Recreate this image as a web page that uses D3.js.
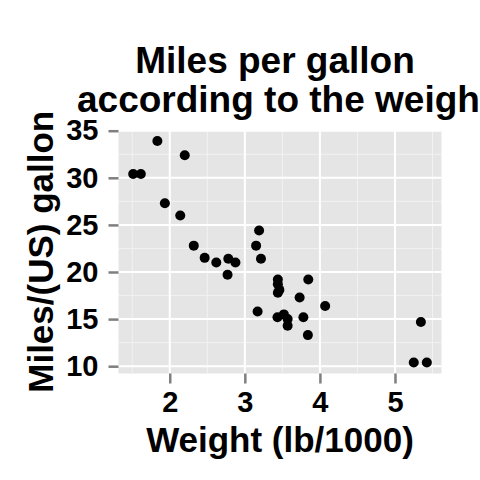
<!DOCTYPE html>
<html>
<head>
<meta charset="utf-8">
<script src="https://cdn.jsdelivr.net/npm/d3@7"></script>
<style>
  html, body { margin: 0; padding: 0; background: #fff; }
  svg { display: block; font-family: "Liberation Sans", Arial, sans-serif; font-weight: bold; }
</style>
</head>
<body>
<div id="scatter_plot"></div>
<script>
// weight (lb/1000) and mpg
var wt = [2.62, 2.875, 2.32, 3.215, 3.44, 3.46, 3.57, 3.19, 3.15, 3.44, 3.44, 4.07, 3.73, 3.78, 5.25, 5.424,
          5.345, 2.2, 1.615, 1.835, 2.465, 3.52, 3.435, 3.84, 3.845, 1.935, 2.14, 1.513, 3.17, 2.77, 3.57, 2.78]
var mpg = [21.0, 21.0, 22.8, 21.4, 18.7, 18.1, 14.3, 24.4, 22.8, 19.2, 17.8, 16.4, 17.3, 15.2, 10.4, 10.4,
           14.7, 32.4, 30.4, 33.9, 21.5, 15.5, 15.2, 13.3, 19.2, 27.3, 26.0, 30.4, 15.8, 19.7, 15.0, 21.4]
var xTicks = [2, 3, 4, 5]
var xMinor = [1.5, 2.5, 3.5, 4.5, 5.5]
var yTicks = [10, 15, 20, 25, 30, 35]
var yMinor = [12.5, 17.5, 22.5, 27.5, 32.5]
var titleLines = ["Miles per gallon", "according to the weight"]

var width = 480, height = 480
var margin = {top: 130, right: 38.5, bottom: 106.5, left: 118.5}

// ggplot-style 5% expansion
var xr = d3.max(wt) - d3.min(wt), yr = d3.max(mpg) - d3.min(mpg)
var x = d3.scaleLinear().domain([d3.min(wt) - xr*0.05, d3.max(wt) + xr*0.05]).range([margin.left, width - margin.right])
var y = d3.scaleLinear().domain([d3.min(mpg) - yr*0.05, d3.max(mpg) + yr*0.05]).range([height - margin.bottom, margin.top])

const svg = d3.select("#scatter_plot").append("svg")
	.attr("width", width).attr("height", height)
	.attr("viewBox", [0, 0, width, height])

//panel
svg.append("rect")
	.attr("x", margin.left).attr("y", margin.top)
	.attr("width", width - margin.left - margin.right)
	.attr("height", height - margin.top - margin.bottom)
	.attr("fill", "#e5e5e5")

//grid
var grid = svg.append("g").attr("stroke", "#fff")
grid.append("g").attr("stroke", "#f2f2f2").attr("stroke-width", 1)
	.call(g => g.selectAll(".vx").data(xMinor.filter(d => x(d) < width - margin.right)).join("line")
		.attr("x1", d => x(d)).attr("x2", d => x(d)).attr("y1", margin.top).attr("y2", height - margin.bottom))
	.call(g => g.selectAll(".hy").data(yMinor).join("line")
		.attr("y1", d => y(d)).attr("y2", d => y(d)).attr("x1", margin.left).attr("x2", width - margin.right))
grid.append("g").attr("stroke-width", 2)
	.call(g => g.selectAll(".vx").data(xTicks).join("line")
		.attr("x1", d => x(d)).attr("x2", d => x(d)).attr("y1", margin.top).attr("y2", height - margin.bottom))
	.call(g => g.selectAll(".hy").data(yTicks).join("line")
		.attr("y1", d => y(d)).attr("y2", d => y(d)).attr("x1", margin.left).attr("x2", width - margin.right))

//axes
var xAxis = g => g.attr("transform", "translate(0," + (height - margin.bottom) + ")")
	.call(d3.axisBottom(x).tickValues(xTicks).tickSize(10).tickPadding(8).tickFormat(d3.format("d")))
	.call(g => g.select(".domain").remove())
var yAxis = g => g.attr("transform", "translate(" + margin.left + ",0)")
	.call(d3.axisLeft(y).tickValues(yTicks).tickSize(10).tickPadding(10).tickFormat(d3.format("d")))
	.call(g => g.select(".domain").remove())

svg.append("g").call(xAxis)
svg.append("g").call(yAxis)
svg.selectAll(".tick line").attr("stroke", "#7f7f7f").attr("stroke-width", 2.5)
svg.selectAll(".tick text").attr("fill", "#000").attr("font-size", 29).attr("font-family", "Liberation Sans, Arial, sans-serif").attr("font-weight", "bold")
svg.selectAll(".tick text").filter(function(){ return this.parentNode.parentNode.getAttribute("transform").indexOf("translate(0") === 0 }).attr("dy", "0.71em")

//points
svg.append("g")
	.attr("fill", "#000")
	.selectAll("circle")
	.data(d3.range(wt.length))
	.join("circle")
	.attr("cx", d => x(wt[d]))
	.attr("cy", d => y(mpg[d]))
	.attr("r", 5)

//title
svg.append("text")
	.attr("x", 275).attr("y", 73)
	.attr("text-anchor", "middle").attr("font-size", 37)
	.text(titleLines[0])
svg.append("text")
	.attr("x", 77).attr("y", 112)
	.attr("text-anchor", "start").attr("font-size", 37)
	.text(titleLines[1])

//labels x-axis
svg.append("text")
	.attr("text-anchor", "middle")
	.attr("x", (margin.left + width - margin.right) / 2)
	.attr("y", 452)
	.attr("font-size", 35)
	.text("Weight (lb/1000)")
//labels y-axis
svg.append("text")
	.attr("text-anchor", "middle")
	.attr("transform", "translate(53," + ((margin.top + height - margin.bottom) / 2) + ") rotate(-90)")
	.attr("font-size", 35)
	.text("Miles/(US) gallon")
</script>
</body>
</html>
